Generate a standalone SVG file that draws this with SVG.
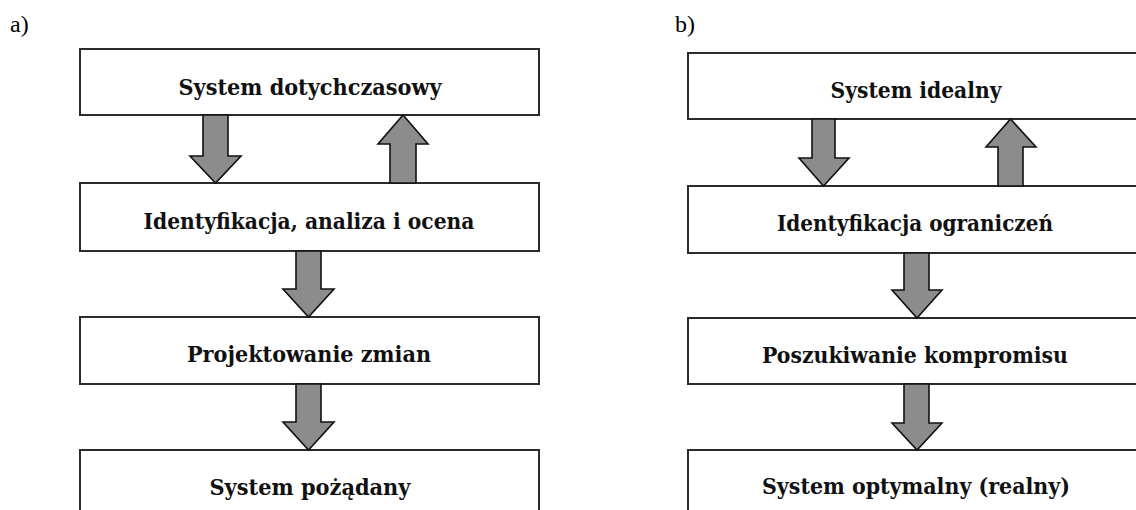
<svg xmlns="http://www.w3.org/2000/svg" width="1136" height="510" viewBox="0 0 1136 510">
<style>
.box{fill:#fff;stroke:#2b2b2b;stroke-width:2}
.arr{fill:#8c8c8c;stroke:#111;stroke-width:1.6;stroke-linejoin:miter}
.t{font-family:"DejaVu Serif Condensed","DejaVu Serif","Liberation Serif",serif;font-stretch:condensed;font-weight:bold;font-size:22px;fill:#111;text-anchor:middle}
.lbl{font-family:"Liberation Serif",serif;font-size:24px;fill:#000}
</style>
<rect width="1136" height="510" fill="#fff"/>
<text class="lbl" x="10" y="32">a)</text>
<text class="lbl" x="675" y="32">b)</text>
<g id="a1"><rect class="box" x="80" y="49" width="459" height="66"/><text class="t" x="310" y="95" textLength="263" lengthAdjust="spacingAndGlyphs">System dotychczasowy</text></g>
<g id="a2"><rect class="box" x="80" y="183" width="459" height="68"/><text class="t" x="309" y="229" textLength="331" lengthAdjust="spacingAndGlyphs">Identyfikacja, analiza i ocena</text></g>
<g id="a3"><rect class="box" x="80" y="317" width="459" height="67"/><text class="t" x="309" y="362" textLength="244" lengthAdjust="spacingAndGlyphs">Projektowanie zmian</text></g>
<g id="a4"><rect class="box" x="80" y="450" width="459" height="80"/><text class="t" x="310" y="495" textLength="201" lengthAdjust="spacingAndGlyphs">System pożądany</text></g>
<g id="b1"><rect class="box" x="688" y="53" width="460" height="66"/><text class="t" x="916" y="98" textLength="171" lengthAdjust="spacingAndGlyphs">System idealny</text></g>
<g id="b2"><rect class="box" x="688" y="186" width="460" height="67"/><text class="t" x="915" y="231" textLength="276" lengthAdjust="spacingAndGlyphs">Identyfikacja ograniczeń</text></g>
<g id="b3"><rect class="box" x="688" y="318" width="460" height="66"/><text class="t" x="915" y="363" textLength="306" lengthAdjust="spacingAndGlyphs">Poszukiwanie kompromisu</text></g>
<g id="b4"><rect class="box" x="688" y="450" width="460" height="80"/><text class="t" x="916" y="494" textLength="308" lengthAdjust="spacingAndGlyphs">System optymalny (realny)</text></g>
<g id="connectors">
<polygon class="arr" points="203,115 228,115 228,156 241,156 215.5,183 190,156 203,156"/>
<polygon class="arr" points="390,183 416,183 416,144 428,144 403,115 378,144 390,144"/>
<polygon class="arr" points="296,251 321,251 321,289 334,289 308.5,317 283,289 296,289"/>
<polygon class="arr" points="296,384 321,384 321,422 334,422 308.5,450 283,422 296,422"/>
<polygon class="arr" points="812,119 835,119 835,158 849,158 823.5,186 799,158 812,158"/>
<polygon class="arr" points="998,186 1023,186 1023,147 1036,147 1010.5,119 986,147 998,147"/>
<polygon class="arr" points="904,253 929,253 929,290 942,290 917,318 892,290 904,290"/>
<polygon class="arr" points="904,384 929,384 929,423 942,423 917,450 892,423 904,423"/>
</g>
</svg>
